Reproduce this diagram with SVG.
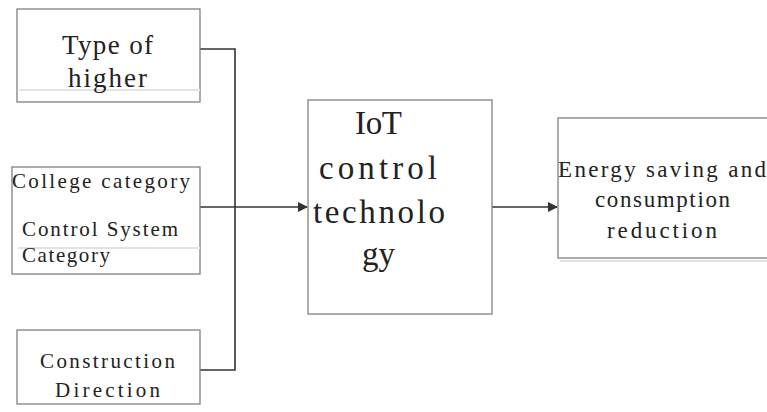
<svg xmlns="http://www.w3.org/2000/svg" width="767" height="412" viewBox="0 0 767 412">
<defs>
<marker id="arr" markerWidth="10" markerHeight="10" refX="9" refY="5" orient="auto" markerUnits="userSpaceOnUse">
<path d="M0,0 L10,5 L0,10 z" fill="#333"/>
</marker>
<style>
.box{fill:#fff;stroke:#808080;stroke-width:1.3}
.sep{stroke:#e2e2e2;stroke-width:2}
.t{font-family:"Liberation Serif","DejaVu Serif",serif;fill:#222}
.con{fill:none;stroke:#333;stroke-width:1.6}
</style>
</defs>
<rect width="767" height="412" fill="#fff"/>
<g id="connectors">
<path class="con" d="M200,49 H235 V370 H200"/>
<path class="con" d="M200,207 H307" marker-end="url(#arr)"/>
<path class="con" d="M492,207 H557" marker-end="url(#arr)"/>
</g>
<g id="type-of-higher">
<rect class="box" x="17" y="9" width="183" height="93"/>
<line class="sep" x1="19" y1="90" x2="200" y2="90"/>
<text class="t" font-size="27" x="62" y="54" textLength="91" lengthAdjust="spacing">Type of</text>
<text class="t" font-size="27" x="68" y="87" textLength="79" lengthAdjust="spacing">higher</text>
</g>
<g id="college-category">
<rect class="box" x="12" y="167" width="188" height="107"/>
<line class="sep" x1="18" y1="248" x2="200" y2="248"/>
<text class="t" font-size="21" x="12" y="188" textLength="178" lengthAdjust="spacing">College category</text>
<text class="t" font-size="21" x="22" y="236" textLength="156" lengthAdjust="spacing">Control System</text>
<text class="t" font-size="21" x="22" y="262" textLength="88" lengthAdjust="spacing">Category</text>
</g>
<g id="construction-direction">
<rect class="box" x="17" y="330" width="183" height="74"/>
<text class="t" font-size="21" x="40" y="368" textLength="135" lengthAdjust="spacing">Construction</text>
<text class="t" font-size="21" x="55" y="397" textLength="105" lengthAdjust="spacing">Direction</text>
</g>
<g id="iot-control">
<rect class="box" x="308" y="100" width="184" height="214"/>
<text class="t" font-size="33" x="355" y="134" textLength="47" lengthAdjust="spacing">IoT</text>
<text class="t" font-size="33" x="319" y="179" textLength="118" lengthAdjust="spacing">control</text>
<text class="t" font-size="33" x="313" y="223" textLength="132" lengthAdjust="spacing">technolo</text>
<text class="t" font-size="33" x="362" y="265" textLength="33" lengthAdjust="spacing">gy</text>
</g>
<g id="energy-saving">
<rect class="box" x="558" y="118" width="212" height="140"/>
<line class="sep" x1="560" y1="261" x2="767" y2="261"/>
<text class="t" font-size="23" x="558" y="177" textLength="208" lengthAdjust="spacing">Energy saving and</text>
<text class="t" font-size="23" x="595" y="207" textLength="135" lengthAdjust="spacing">consumption</text>
<text class="t" font-size="23" x="607" y="238" textLength="110" lengthAdjust="spacing">reduction</text>
</g>
</svg>
